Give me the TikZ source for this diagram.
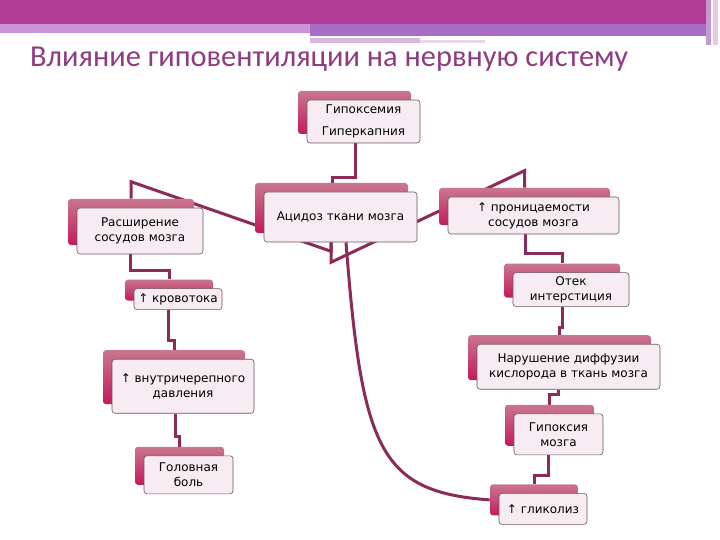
\documentclass[tikz,border=0pt]{standalone}
\usepackage{fontspec}
\setmainfont{DejaVu Sans}
\newfontfamily\titlefont{Carlito}
\usepackage{tikz}
\usetikzlibrary{positioning, shadows, backgrounds}

\definecolor{bandtop}{HTML}{B13C96}
\definecolor{bandlight}{HTML}{C995D6}
\definecolor{bandmid}{HTML}{A86DC2}
\definecolor{titlecol}{HTML}{8E3B80}
\definecolor{linkcol}{HTML}{8C2B58}
\definecolor{backtop}{HTML}{C9768F}
\definecolor{backbot}{HTML}{C41A5C}
\definecolor{cardfill}{HTML}{F7ECF1}
\definecolor{cardline}{HTML}{6E5460}

\begin{document}
\begin{tikzpicture}[
    x=1pt, y=-1pt,
    card/.style={draw=cardline, line width=0.6pt, fill=cardfill, rounded corners=3pt,
      align=center, inner sep=2pt, font=\fontsize{12}{15}\selectfont,
      general shadow={shadow xshift=-9pt, shadow yshift=9pt, top color=backtop, bottom color=backbot, draw=none}},
    link/.style={draw=linkcol, line width=3pt},
  ]

  \useasboundingbox (0,0) rectangle (720,540);

  % Header band
  \fill[bandtop] (0,0) rectangle (706,24);
  \fill[bandlight] (0,24) rectangle (310,33);
  \fill[bandmid] (310,24) rectangle (706,36);
  \fill[bandlight!70] (310,38) rectangle (420,43);
  \fill[bandlight!40] (420,40) rectangle (485,43);
  \fill[bandmid!70] (706,0) rectangle (711,45);
  \fill[bandlight!50] (713,0) rectangle (718,45);

  % Title
  \node[anchor=base west, text=titlecol, font=\titlefont\fontsize{30.4}{32}\selectfont, inner sep=0pt] (title) at (30,67)
    {Влияние гиповентиляции на нервную систему};

  % Top row
  \node[card, minimum width=113pt, minimum height=43pt] (hyp) at (363.5,121.5) {Гипоксемия\\[7pt]Гиперкапния};
  \node[card, minimum width=153pt, minimum height=50pt] (acid) at (340.5,217) {Ацидоз ткани мозга};
  \node[card, minimum width=126pt, minimum height=46pt] (dil) at (140,231) {Расширение\\сосудов мозга};
  \node[card, minimum width=171pt, minimum height=37pt] (perm) at (533.5,215.5) {↑ проницаемости\\сосудов мозга};

  % Left chain
  \node[card, minimum width=88pt, minimum height=21pt, below=34pt of dil, xshift=38pt] (flow) {↑ кровотока};
  \node[card, minimum width=142pt, minimum height=54pt, below=49pt of flow, xshift=5pt] (icp) {↑ внутричерепного\\давления};
  \node[card, minimum width=89pt, minimum height=38pt, below=42pt of icp, xshift=5.5pt] (head) {Головная\\боль};

  % Right chain
  \node[card, minimum width=116pt, minimum height=34pt, below=38pt of perm, xshift=37.5pt] (edema) {Отек\\интерстиция};
  \node[card, minimum width=183pt, minimum height=45pt, below=37pt of edema, xshift=-2.5pt] (diff) {Нарушение диффузии\\кислорода в ткань мозга};
  \node[card, minimum width=89pt, minimum height=41pt, below=24pt of diff, xshift=-10pt] (hypox) {Гипоксия\\мозга};
  \node[card, minimum width=88pt, minimum height=31pt, below=38pt of hypox, xshift=-15.5pt] (glyc) {↑ гликолиз};

  % Connectors behind the cards
  \begin{scope}[on background layer]
    \fill[white] (0,0) rectangle (720,540);
    \draw[link] ([xshift=-8.5pt]hyp.south) -- ++(0,34) -| ([xshift=-8.5pt, yshift=9pt]acid.north);
    \draw[link] ([xshift=-9.5pt]acid.south) -- ++(0,9) -- ([xshift=-9pt, yshift=26pt]dil.north) -- ([xshift=-9pt, yshift=9pt]dil.north);
    \draw[link] ([xshift=-9.5pt]acid.south) -- ++(0,20) -- ([xshift=-9pt, yshift=26pt]perm.north) -- ([xshift=-9pt, yshift=9pt]perm.north);
    \draw[link] ([xshift=5.5pt]acid.south) .. controls +(16,208) and +(-110,-8) .. ([xshift=-9pt, yshift=9pt]glyc.west);

    \draw[link] ([xshift=-10pt]dil.south) -- ++(0,16) -| ([xshift=-9pt, yshift=9pt]flow.north);
    \draw[link] ([xshift=-10pt]flow.south) -- ++(0,31) -| ([xshift=-9pt, yshift=9pt]icp.north);
    \draw[link] ([xshift=-8pt]icp.south) -- ++(0,23) -| ([xshift=-9pt, yshift=9pt]head.north);

    \draw[link] ([xshift=-8.5pt]perm.south) -- ++(0,19) -| ([xshift=-9pt, yshift=9pt]edema.north);
    \draw[link] ([xshift=-9pt]edema.south) -- ++(0,21) -| ([xshift=-9pt, yshift=9pt]diff.north);
    \draw[link] ([xshift=-10.5pt]diff.south) -- ++(0,5) -| ([xshift=-9pt, yshift=9pt]hypox.north);
    \draw[link] ([xshift=-10.5pt]hypox.south) -- ++(0,20) -| ([xshift=-9pt, yshift=9pt]glyc.north);
  \end{scope}

\end{tikzpicture}
\end{document}
